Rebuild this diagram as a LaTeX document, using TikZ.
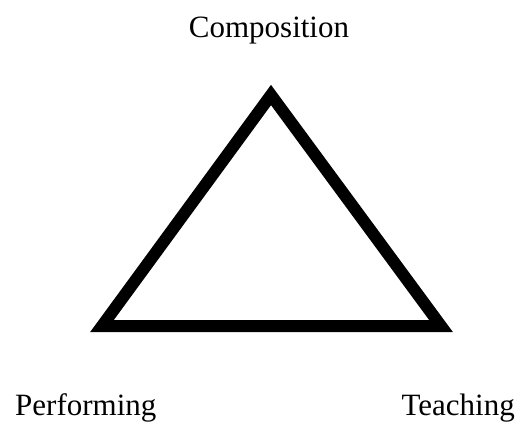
\documentclass[tikz,border=0pt]{standalone}
\usepackage{fontspec}
\setmainfont{Liberation Serif}
\begin{document}
\begin{tikzpicture}[x=1pt,y=-1pt,
  lbl/.style={inner sep=0pt,font=\fontsize{31}{36}\selectfont},
  tri/.style={line width=12pt,line join=miter,black}]
\useasboundingbox (0,0) rectangle (521,421);
\coordinate (A) at (271,95);
\coordinate (B) at (102,326);
\coordinate (C) at (441,326);
\draw[tri] (A) -- (B) -- (C) -- cycle;
\node[lbl,anchor=base] (comp) at (269,37) {Composition};
\node[lbl,anchor=base west] (perf) at (15,415) {Performing};
\node[lbl,anchor=base east] (teach) at (515,415) {Teaching};
\end{tikzpicture}
\end{document}
